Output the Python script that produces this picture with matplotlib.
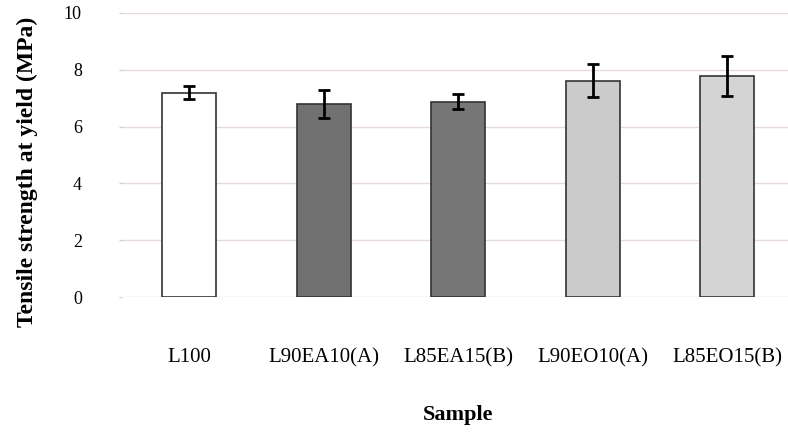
import numpy as np
import matplotlib
matplotlib.use('Agg')
from matplotlib import pyplot as plt

samples = ['L100', 'L90EA10(A)', 'L85EA15(B)', 'L90EO10(A)', 'L85EO15(B)']
strength = [7.2, 6.8, 6.88, 7.62, 7.78]
err = [0.22, 0.5, 0.27, 0.58, 0.7]
colors = ['#ffffff', '#717171', '#767676', '#cbcbcb', '#d4d4d4']

plt.rcParams['font.family'] = ['Liberation Serif', 'DejaVu Serif']

fig = plt.figure(figsize=(7.88, 4.33), dpi=100)
ax = fig.add_axes([0.155, 0.314, 0.853, 0.656])
x = np.arange(len(samples))
ax.set_axisbelow(True)
ax.yaxis.grid(True, color='#e6dada', linewidth=1.0)
ax.bar(x, strength, width=0.4, color=colors, edgecolor='#333333', linewidth=1.2,
       yerr=err, capsize=4.5, error_kw=dict(ecolor='black', elinewidth=2, capthick=2))
ax.set_xlim(-0.5, 4.5)
ax.set_ylim(0, 10)
ax.set_yticks(range(0, 11, 2))
ax.set_xticks(x)
ax.set_xticklabels(samples, fontsize=15)
ax.tick_params(axis='y', labelsize=13, pad=27, length=2, color='#cccccc')
ax.tick_params(axis='x', pad=37, length=0)
for s in ax.spines.values():
    s.set_visible(False)
ax.set_ylabel('Tensile strength at yield (MPa)', fontsize=17, fontweight='bold')
ax.yaxis.set_label_coords(-0.125, 0.44)
ax.set_xlabel('Sample', fontsize=16, fontweight='bold')
ax.xaxis.set_label_coords(0.5, -0.38)
fig.savefig('out.png', dpi=100)
